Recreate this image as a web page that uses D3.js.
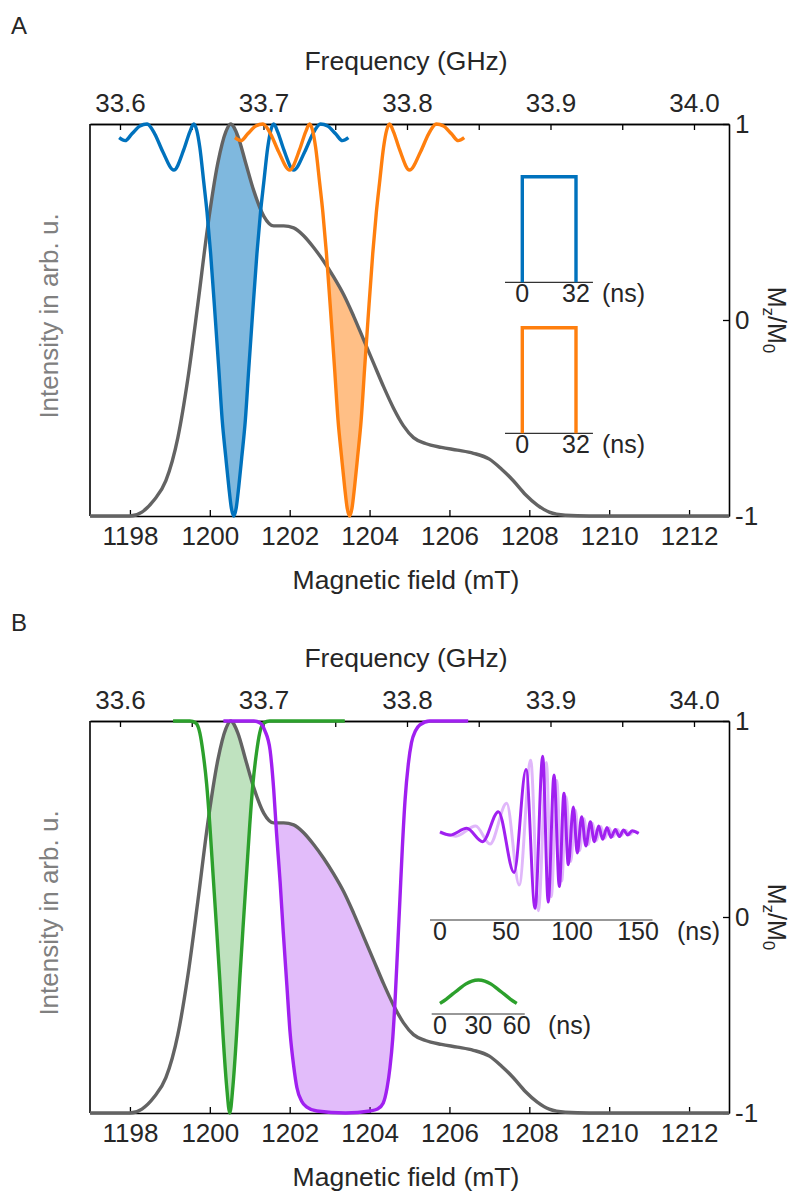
<!DOCTYPE html>
<html>
<head>
<meta charset="utf-8">
<script src="https://cdn.jsdelivr.net/npm/d3@7"></script>
<style>
  body { margin: 0; background: #fff; }
  text { font-family: "Liberation Sans", Arial, sans-serif; fill: #262626; }
</style>
</head>
<body>
<svg id="fig" width="793" height="1192"></svg>
<script>
// ---- data ----
const fieldTicks = [1198, 1200, 1202, 1204, 1206, 1208, 1210, 1212];
const freqMajor = [33.6, 33.7, 33.8, 33.9, 34.0];
const freqMinor = [33.65, 33.75, 33.85, 33.95];
const mzTicks = [-1, 0, 1];

// EPR spectrum (gray), field in mT, normalised intensity
const specField = [1197, 1198.0, 1198.3, 1198.6, 1198.9, 1199.2, 1199.45, 1199.7, 1199.95, 1200.2, 1200.4, 1200.52,
  1200.7, 1200.9, 1201.1, 1201.35, 1201.6, 1201.85, 1202.1, 1202.35, 1202.6, 1202.85, 1203.1, 1203.35, 1203.6,
  1203.85, 1204.1, 1204.35, 1204.6, 1204.85, 1205.1, 1205.4, 1205.8, 1206.2, 1206.6, 1207.0, 1207.3, 1207.6,
  1207.9, 1208.2, 1208.5, 1208.9, 1209.5, 1213];
const specInt = [0, 0, 0.01, 0.04, 0.09, 0.2, 0.35, 0.54, 0.74, 0.9, 0.98, 1.0,
  0.97, 0.9, 0.83, 0.765, 0.74, 0.74, 0.735, 0.715, 0.685, 0.65, 0.61, 0.565, 0.51,
  0.45, 0.39, 0.33, 0.275, 0.23, 0.2, 0.185, 0.175, 0.168, 0.16, 0.145, 0.12, 0.09,
  0.055, 0.028, 0.01, 0.002, 0, 0];

// 32 ns rectangular pulse inversion profile, offset from centre (mT) and Mz/M0
const rectOffset = [-2.87, -2.72, -2.55, -2.35, -2.17, -1.98, -1.78, -1.5, -1.25, -1.1, -1.0, -0.93, -0.85,
  -0.75, -0.67, -0.58, -0.46, -0.375, -0.29, -0.2, -0.125, -0.06, 0, 0.06, 0.125, 0.2, 0.29, 0.375, 0.46,
  0.58, 0.67, 0.75, 0.85, 0.93, 1.0, 1.1, 1.25, 1.5, 1.78, 1.98, 2.17, 2.35, 2.55, 2.72, 2.87];
const rectMz = [0.93, 0.915, 0.95, 0.99, 1.0, 0.95, 0.86, 0.765, 0.87, 0.96, 1.0, 0.97, 0.88,
  0.70, 0.55, 0.34, 0, -0.25, -0.51, -0.70, -0.85, -0.96, -1, -0.96, -0.85, -0.70, -0.51, -0.25, 0,
  0.34, 0.55, 0.70, 0.88, 0.97, 1.0, 0.96, 0.87, 0.765, 0.86, 0.95, 1.0, 0.99, 0.95, 0.915, 0.93];
const blueCenter = 1200.6;
const orangeCenter = 1203.5;

// 60 ns Gaussian pulse inversion profile (green)
const gaussOffset = [-1.42, -1.0, -0.85, -0.75, -0.67, -0.58, -0.5, -0.42, -0.33, -0.25, -0.17, -0.08, 0,
  0.08, 0.17, 0.25, 0.33, 0.42, 0.5, 0.58, 0.67, 0.75, 0.85, 1.0, 2.88];
const gaussMz = [1, 1, 0.99, 0.94, 0.84, 0.68, 0.47, 0.22, -0.06, -0.32, -0.6, -0.86, -1,
  -0.86, -0.6, -0.32, -0.06, 0.22, 0.47, 0.68, 0.84, 0.94, 0.99, 1, 1];
const greenCenter = 1200.5;

// chirp pulse inversion profile (purple), absolute field
const chirpField = [1200.34, 1201.1, 1201.26, 1201.38, 1201.51, 1201.6, 1201.67, 1201.76, 1201.84, 1201.93,
  1202.01, 1202.1, 1202.18, 1202.3, 1202.43, 1202.68, 1203.4, 1204.01, 1204.2, 1204.34, 1204.44, 1204.51,
  1204.58, 1204.64, 1204.7, 1204.76, 1204.82, 1204.89, 1204.97, 1205.05, 1205.15, 1205.26, 1205.51, 1206.47];
const chirpMz = [1, 1, 0.99, 0.95, 0.85, 0.65, 0.43, 0.18, -0.08, -0.35,
  -0.59, -0.76, -0.87, -0.94, -0.97, -0.99, -1.0, -0.99, -0.98, -0.95, -0.87, -0.77,
  -0.62, -0.42, -0.17, 0.09, 0.35, 0.6, 0.78, 0.89, 0.95, 0.98, 1.0, 1.0];

// inset waveforms
const rectT = [0, 0, 32, 32];
const rectA = [0, 1, 1, 0];
const rectTickVals = [0, 32];

const chirpT = [0, 7.6, 20.2, 32.3, 44.2, 56.1, 65.2, 72, 77.8, 82, 86.4, 90.4, 93.9, 97.2, 101, 104, 107.3,
  110.5, 113.9, 116.9, 120.2, 123.2, 126.5, 129.5, 132.8, 135.8, 139.1, 142.2, 145.5, 150.5];
const chirpRe = [0.01, -0.03, 0.056, -0.115, 0.27, -0.51, 0.81, -0.97, 0.98, -0.89, 0.74, -0.69, 0.505, -0.41,
  0.33, -0.26, 0.205, -0.17, 0.14, -0.115, 0.085, -0.085, 0.068, -0.06, 0.04, -0.05, 0.034, -0.03, 0.025, -0.01];
const chirpImT = [0, 12, 27, 37.9, 50.5, 60, 68.7, 74.5, 80.6, 84.3, 88.4, 92.2, 95.6, 99, 102.5, 105.7, 109,
  112.2, 115.5, 118.5, 121.8, 124.8, 128, 131, 134.3, 137.4, 140.6, 143.8, 147, 150.5];
const chirpIm = [0, -0.045, 0.086, -0.145, 0.376, -0.67, 0.93, -1.0, 0.9, -0.82, 0.67, -0.62, 0.46, -0.37,
  0.29, -0.23, 0.18, -0.15, 0.12, -0.1, 0.08, -0.07, 0.06, -0.05, 0.04, -0.035, 0.03, -0.025, 0.02, 0];
const chirpTickVals = [0, 50, 100, 150];

const gaussT = [0, 5, 10, 15, 20, 25, 30, 35, 40, 45, 50, 55, 60];
const gaussA = [0.31, 0.44, 0.59, 0.74, 0.88, 0.97, 1, 0.97, 0.88, 0.74, 0.59, 0.44, 0.31];
const gaussTickVals = [0, 30, 60];

// ---- colours ----
const cGray = '#636363', cBlue = '#0072bd', cOrange = '#ff7f0e', cGreen = '#2ca02c', cPurple = '#a020f0';

// ---- layout ----
const plotLeft = 90, plotRight = 729, plotTop = 124, plotBottom = 516;
const lw = 3.4;
const x = d3.scaleLinear().domain([1197, 1213]).range([plotLeft, plotRight]);
const xf = d3.scaleLinear().domain([33.5791, 34.0244]).range([plotLeft, plotRight]);
const yI = d3.scaleLinear().domain([0, 1]).range([plotBottom, plotTop]);
const yM = d3.scaleLinear().domain([-1, 1]).range([plotBottom, plotTop]);

const svg = d3.select('#fig');
const spec = d3.zip(specField, specInt);

const specLine = d3.line().x(d => x(d[0])).y(d => yI(d[1])).curve(d3.curveMonotoneX);
const mzLine = d3.line().x(d => x(d[0])).y(d => yM(d[1])).curve(d3.curveMonotoneX);

function styleAxis(sel, size) {
    sel.attr('font-size', null).attr('font-family', null);
    sel.select('.domain').attr('stroke', '#000').attr('stroke-width', 1.6);
    sel.selectAll('.tick line').attr('stroke', '#000').attr('stroke-width', 1.3);
    sel.selectAll('text').style('font-size', size + 'px').attr('fill', '#262626');
}

function frame(g) {
    const bx = g.append('g').attr('transform', `translate(0,${plotBottom})`)
        .call(d3.axisBottom(x).tickValues(fieldTicks).tickSize(-6).tickSizeOuter(0).tickPadding(11).tickFormat(d3.format('d')));
    styleAxis(bx, 26);

    const tx = g.append('g').attr('transform', `translate(0,${plotTop})`)
        .call(d3.axisTop(xf).tickValues(freqMajor).tickSize(-6).tickSizeOuter(0).tickPadding(12).tickFormat(d3.format('.1f')));
    styleAxis(tx, 26);
    const tx2 = g.append('g').attr('transform', `translate(0,${plotTop})`)
        .call(d3.axisTop(xf).tickValues(freqMinor).tickSize(-6).tickSizeOuter(0).tickFormat(''));
    styleAxis(tx2, 26);

    const ry = g.append('g').attr('transform', `translate(${plotRight},0)`)
        .call(d3.axisRight(yM).tickValues(mzTicks).tickSize(-6).tickSizeOuter(0).tickPadding(6).tickFormat(d3.format('d')));
    styleAxis(ry, 26);
    ry.selectAll('text').text(d => d < 0 ? '-' + Math.abs(d) : d);

    g.append('line').attr('x1', plotLeft).attr('x2', plotLeft).attr('y1', plotTop).attr('y2', plotBottom)
        .attr('stroke', '#000').attr('stroke-width', 1.6);

    g.append('text').attr('x', 406).attr('y', 70).attr('text-anchor', 'middle')
        .style('font-size', '26.5px').text('Frequency (GHz)');
    g.append('text').attr('x', 406).attr('y', 589).attr('text-anchor', 'middle')
        .style('font-size', '26.5px').text('Magnetic field (mT)');
    g.append('text').attr('transform', 'translate(58,316) rotate(-90)').attr('text-anchor', 'middle')
        .style('font-size', '26px').style('fill', '#808080').text('Intensity in arb. u.');

    const ml = g.append('text').attr('transform', 'translate(768,320) rotate(90)')
        .attr('text-anchor', 'middle').style('font-size', '25px');
    ml.append('tspan').text('M');
    ml.append('tspan').attr('dy', 5).style('font-size', '17px').text('z');
    ml.append('tspan').attr('dy', -5).text('/M');
    ml.append('tspan').attr('dy', 5).style('font-size', '17px').text('0');
}

// shaded overlap: area under the spectrum and above the pulse profile
function shade(g, id, pts, color, opacity) {
    g.append('clipPath').attr('id', id).append('path')
        .attr('d', d3.area().x(d => x(d[0])).y0(d => yM(d[1])).y1(0).curve(d3.curveMonotoneX)(pts));
    g.append('path')
        .attr('d', d3.area().x(d => x(d[0])).y0(plotBottom).y1(d => yI(d[1])).curve(d3.curveMonotoneX)(spec))
        .attr('fill', color).attr('fill-opacity', opacity)
        .attr('clip-path', `url(#${id})`);
}

function curve(g, pts, color) {
    g.append('path').attr('d', mzLine(pts)).attr('fill', 'none')
        .attr('stroke', color).attr('stroke-width', lw).attr('stroke-linejoin', 'round');
}

function miniAxis(g, t, y, ext, ticks, unitX, size) {
    g.append('line').attr('x1', t(ext[0])).attr('x2', t(ext[1])).attr('y1', y).attr('y2', y)
        .attr('stroke', '#333').attr('stroke-width', 1.2);
    g.selectAll(null).data(ticks).join('text')
        .attr('x', d => t(d)).attr('y', y + 20).attr('text-anchor', 'middle')
        .style('font-size', size + 'px').text(d => d);
    g.append('text').attr('x', unitX).attr('y', y + 20).style('font-size', size + 'px').text('(ns)');
}

// ---- panel A ----
const gA = svg.append('g');
gA.append('text').attr('x', 11).attr('y', 34).style('font-size', '24px').text('A');
frame(gA);
const bluePts = d3.zip(rectOffset.map(d => d + blueCenter), rectMz);
const orangePts = d3.zip(rectOffset.map(d => d + orangeCenter), rectMz);
shade(gA, 'clipBlue', bluePts, cBlue, 0.5);
shade(gA, 'clipOrange', orangePts, cOrange, 0.5);
gA.append('path').attr('d', specLine(spec)).attr('fill', 'none').attr('stroke', cGray).attr('stroke-width', lw);
curve(gA, bluePts, cBlue);
curve(gA, orangePts, cOrange);

const tRect = d3.scaleLinear().domain([0, 32]).range([522.3, 576]);
[[282.3, cBlue], [433.3, cOrange]].forEach(([y0, col]) => {
    const a = d3.scaleLinear().domain([0, 1]).range([y0, y0 - 105.6]);
    miniAxis(gA, tRect, y0, [-10.3, 42.1], rectTickVals, 602, 25);
    gA.append('path').attr('d', d3.line().x(d => tRect(d[0])).y(d => a(d[1]))(d3.zip(rectT, rectA)))
        .attr('fill', 'none').attr('stroke', col).attr('stroke-width', lw);
});

// ---- panel B ----
const gB = svg.append('g').attr('transform', 'translate(0,597)');
gB.append('text').attr('x', 11).attr('y', 34).style('font-size', '24px').text('B');
frame(gB);
const greenPts = d3.zip(gaussOffset.map(d => d + greenCenter), gaussMz);
const purplePts = d3.zip(chirpField, chirpMz);
shade(gB, 'clipGreen', greenPts, cGreen, 0.3);
shade(gB, 'clipPurple', purplePts, cPurple, 0.3);
gB.append('path').attr('d', specLine(spec)).attr('fill', 'none').attr('stroke', cGray).attr('stroke-width', lw);
curve(gB, greenPts, cGreen);
curve(gB, purplePts, cPurple);

// chirp waveform inset
const tChirp = d3.scaleLinear().domain([0, 150]).range([440, 638]);
const aChirp = d3.scaleLinear().domain([-1, 1]).range([313.7, 157.7]);
miniAxis(gB, tChirp, 323, [-7.6, 161], chirpTickVals, 677, 25);
const waveLine = d3.line().x(d => tChirp(d[0])).y(d => aChirp(d[1])).curve(d3.curveMonotoneX);
gB.append('path').attr('d', waveLine(d3.zip(chirpImT, chirpIm))).attr('fill', 'none')
    .attr('stroke', cPurple).attr('stroke-opacity', 0.32).attr('stroke-width', 3);
gB.append('path').attr('d', waveLine(d3.zip(chirpT, chirpRe))).attr('fill', 'none')
    .attr('stroke', cPurple).attr('stroke-width', 3);

// gaussian pulse inset
const tGauss = d3.scaleLinear().domain([0, 60]).range([440, 516.7]);
const aGauss = d3.scaleLinear().domain([0, 1]).range([417, 383]);
miniAxis(gB, tGauss, 417, [-6.5, 66.3], gaussTickVals, 548, 25);
gB.append('path').attr('d', d3.line().x(d => tGauss(d[0])).y(d => aGauss(d[1])).curve(d3.curveMonotoneX)(d3.zip(gaussT, gaussA)))
    .attr('fill', 'none').attr('stroke', cGreen).attr('stroke-width', lw);
</script>
</body>
</html>
